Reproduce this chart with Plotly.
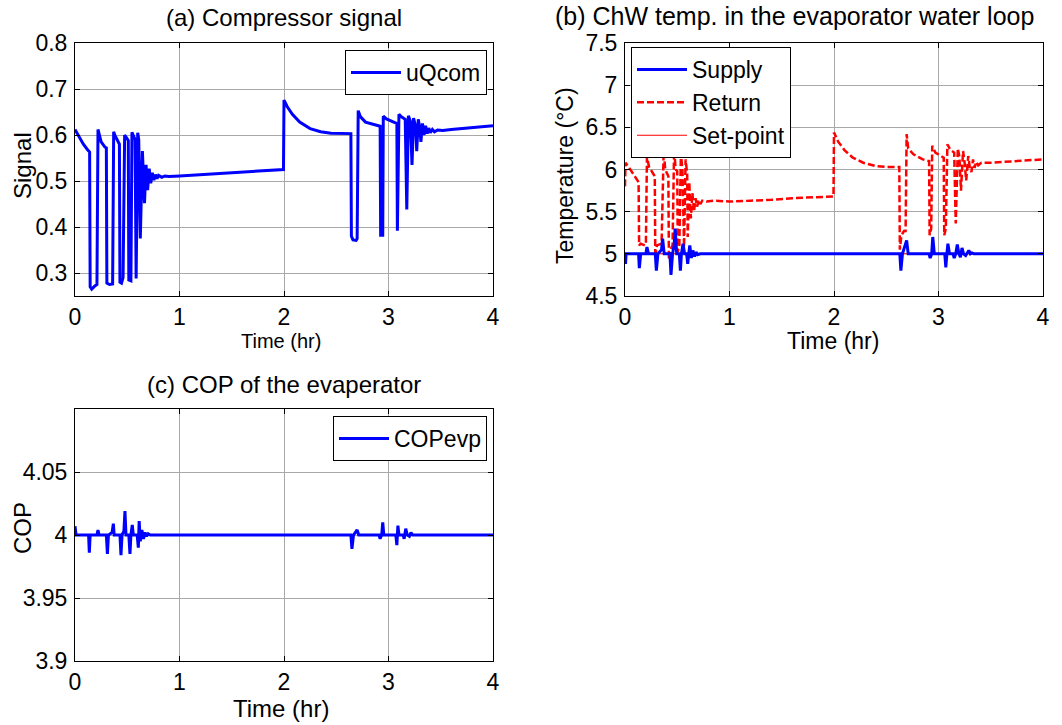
import plotly.graph_objects as go

W, H = 1062, 725
FONT = "Liberation Sans, Arial, sans-serif"

# ---------------- data ----------------
# (a) compressor signal
t_uq = [0.00, 0.04, 0.08, 0.12, 0.14, 0.145, 0.16, 0.19, 0.21, 0.22, 0.235, 0.25, 0.285, 0.30,
        0.305, 0.33, 0.36, 0.37, 0.38, 0.40, 0.425, 0.43, 0.445, 0.46, 0.475, 0.49, 0.51, 0.515,
        0.535, 0.545, 0.555, 0.575, 0.585, 0.60, 0.61, 0.625, 0.645, 0.665, 0.68, 0.695, 0.71,
        0.725, 0.74, 0.755, 0.77, 0.785, 0.80, 0.83, 0.86, 0.90, 1.00, 1.20, 1.40, 1.60, 1.80,
        1.995, 2.00, 2.03, 2.08, 2.15, 2.25, 2.35, 2.45, 2.64, 2.645, 2.66, 2.69, 2.70, 2.71,
        2.73, 2.78, 2.86, 2.92, 2.925, 2.945, 2.95, 2.98, 3.05, 3.08, 3.085, 3.10, 3.12, 3.16,
        3.175, 3.19, 3.21, 3.225, 3.24, 3.26, 3.27, 3.285, 3.30, 3.31, 3.325, 3.34, 3.355, 3.37,
        3.385, 3.40, 3.42, 3.44, 3.47, 3.52, 3.60, 3.70, 3.80, 3.90, 4.00]
u_qcom = [0.612, 0.595, 0.580, 0.568, 0.563, 0.270, 0.265, 0.272, 0.275, 0.612, 0.600, 0.585, 0.574, 0.572,
          0.278, 0.275, 0.276, 0.607, 0.600, 0.590, 0.580, 0.280, 0.278, 0.290, 0.600, 0.595, 0.588, 0.285,
          0.283, 0.606, 0.600, 0.590, 0.288, 0.605, 0.590, 0.375, 0.565, 0.452, 0.535, 0.480, 0.527,
          0.495, 0.518, 0.502, 0.514, 0.505, 0.512, 0.508, 0.511, 0.510, 0.511, 0.514, 0.517, 0.520, 0.523,
          0.525, 0.676, 0.662, 0.645, 0.628, 0.614, 0.607, 0.604, 0.603, 0.380, 0.372, 0.371, 0.375, 0.653,
          0.640, 0.628, 0.622, 0.619, 0.382, 0.382, 0.641, 0.635, 0.628, 0.625, 0.392, 0.645, 0.640, 0.634,
          0.438, 0.642, 0.630, 0.535, 0.637, 0.618, 0.565, 0.634, 0.615, 0.585, 0.625, 0.600, 0.620, 0.603,
          0.615, 0.605, 0.612, 0.607, 0.611, 0.610, 0.612, 0.614, 0.617, 0.618, 0.620]

# (b) chilled water temperatures
t_ret = [0.00, 0.005, 0.04, 0.08, 0.13, 0.135, 0.15, 0.19, 0.20, 0.21, 0.23, 0.27, 0.285, 0.29,
         0.305, 0.35, 0.37, 0.385, 0.405, 0.415, 0.42, 0.435, 0.455, 0.47, 0.485, 0.50, 0.505,
         0.52, 0.535, 0.55, 0.565, 0.58, 0.595, 0.60, 0.615, 0.63, 0.645, 0.66, 0.675, 0.69,
         0.705, 0.72, 0.74, 0.78, 0.85, 1.00, 1.20, 1.40, 1.60, 1.80, 1.995, 2.00, 2.04, 2.10,
         2.18, 2.28, 2.40, 2.50, 2.625, 2.63, 2.645, 2.67, 2.685, 2.695, 2.71, 2.76, 2.85, 2.91,
         2.915, 2.93, 2.94, 2.97, 3.03, 3.05, 3.055, 3.07, 3.085, 3.11, 3.15, 3.165, 3.185, 3.20,
         3.215, 3.235, 3.25, 3.265, 3.285, 3.30, 3.315, 3.33, 3.345, 3.36, 3.38, 3.41, 3.50, 3.66,
         3.80, 4.00]
T_return = [5.80, 6.08, 6.02, 5.95, 5.85, 5.10, 5.12, 5.10, 5.12, 6.15, 6.03, 5.95, 5.92, 4.95,
            5.10, 5.12, 6.22, 6.00, 5.95, 5.92, 4.93, 5.05, 5.10, 6.24, 6.00, 5.98, 5.02,
            5.10, 6.20, 5.98, 5.08, 6.12, 5.95, 5.20, 5.85, 5.42, 5.72, 5.50, 5.66, 5.56,
            5.64, 5.59, 5.63, 5.62, 5.63, 5.62, 5.63, 5.64, 5.66, 5.67, 5.68, 6.44, 6.33, 6.23,
            6.14, 6.08, 6.04, 6.03, 6.03, 5.05, 5.22, 5.27, 5.27, 6.42, 6.25, 6.18, 6.12, 6.10,
            5.22, 5.30, 6.28, 6.20, 6.16, 6.14, 5.22, 5.30, 6.30, 6.24, 6.20, 5.36, 6.25, 6.15,
            5.75, 6.22, 6.08, 5.87, 6.16, 6.02, 5.97, 6.12, 6.02, 6.09, 6.05, 6.08, 6.08, 6.09,
            6.10, 6.12]

t_sup = [0.00, 0.005, 0.01, 0.13, 0.137, 0.15, 0.20, 0.21, 0.225, 0.29, 0.30, 0.315, 0.35, 0.36,
         0.375, 0.43, 0.44, 0.455, 0.47, 0.48, 0.495, 0.52, 0.53, 0.54, 0.555, 0.57, 0.59, 0.60,
         0.61, 0.62, 0.635, 0.65, 0.665, 0.68, 0.695, 0.72, 2.63, 2.64, 2.655, 2.68, 2.695, 2.71,
         2.91, 2.92, 2.935, 2.945, 2.96, 3.06, 3.07, 3.08, 3.09, 3.105, 3.14, 3.15, 3.165, 3.18,
         3.195, 3.21, 3.225, 3.24, 3.26, 3.29, 3.305, 3.32, 3.34, 4.00]
T_supply = [5.00, 4.88, 5.00, 5.00, 4.83, 5.00, 5.00, 5.08, 5.00, 5.00, 4.80, 5.00, 5.05, 5.18,
            5.00, 5.00, 4.75, 5.00, 5.10, 5.30, 5.00, 5.00, 4.80, 5.00, 5.12, 5.00, 5.00, 4.88,
            5.00, 5.10, 4.95, 5.04, 4.97, 5.02, 4.99, 5.00, 5.00, 4.80, 5.00, 5.10, 5.16, 5.00,
            5.00, 4.95, 5.00, 5.20, 5.00, 5.00, 4.84, 5.00, 5.12, 5.00, 5.00, 4.95, 5.00, 5.11,
            5.00, 4.96, 5.07, 5.00, 4.98, 5.04, 5.00, 5.01, 5.00, 5.00]

t_sp = [0.0, 4.0]
T_setpoint = [5.0, 5.0]

# (c) COP of the evaporator
t_cop = [0.00, 0.01, 0.13, 0.137, 0.145, 0.21, 0.22, 0.23, 0.30, 0.31, 0.32, 0.355, 0.367, 0.375,
         0.43, 0.44, 0.45, 0.468, 0.478, 0.488, 0.515, 0.526, 0.535, 0.548, 0.558, 0.57, 0.595,
         0.606, 0.614, 0.625, 0.64, 0.655, 0.67, 0.685, 0.70, 0.72, 2.64, 2.65, 2.665, 2.70,
         2.715, 2.91, 2.92, 2.935, 2.945, 2.955, 3.07, 3.08, 3.09, 3.10, 3.14, 3.15, 3.165, 3.18,
         3.20, 3.215, 3.23, 4.00]
cop_evp = [4.007, 4.000, 4.000, 3.986, 4.000, 4.000, 4.004, 4.000, 4.000, 3.985, 4.000, 4.002, 4.009, 4.000,
           4.000, 3.984, 4.000, 4.003, 4.019, 4.000, 4.000, 3.985, 4.000, 4.008, 4.000, 4.000, 4.000,
           3.990, 4.011, 3.995, 4.004, 3.997, 4.002, 3.999, 4.001, 4.000, 4.000, 3.989, 4.000, 4.004,
           4.000, 4.000, 3.997, 4.000, 4.010, 4.000, 4.000, 3.992, 4.0075, 4.000, 4.000, 3.997, 4.005, 4.000,
           3.999, 4.002, 4.000, 4.000]

x_ticks = [0, 1, 2, 3, 4]
ya_ticks = [0.3, 0.4, 0.5, 0.6, 0.7, 0.8]
yb_ticks = [4.5, 5, 5.5, 6, 6.5, 7, 7.5]
yc_ticks = [3.9, 3.95, 4.0, 4.05, 4.1]
yc_labels = ["3.9", "3.95", "4", "4.05", ""]

# ---------------- figure ----------------
BLUE = "#0000ff"
RED = "#ff0000"

fig = go.Figure()
fig.add_trace(go.Scatter(x=t_uq, y=u_qcom, mode="lines", name="uQcom",
                         line=dict(color=BLUE, width=3), xaxis="x", yaxis="y", legend="legend"))
fig.add_trace(go.Scatter(x=t_sp, y=T_setpoint, mode="lines", name="Set-point",
                         line=dict(color=RED, width=1), xaxis="x2", yaxis="y2", legend="legend2",
                         legendrank=3))
fig.add_trace(go.Scatter(x=t_ret, y=T_return, mode="lines", name="Return",
                         line=dict(color=RED, width=2.5, dash="7px,3px"), xaxis="x2", yaxis="y2",
                         legend="legend2", legendrank=2))
fig.add_trace(go.Scatter(x=t_sup, y=T_supply, mode="lines", name="Supply",
                         line=dict(color=BLUE, width=3), xaxis="x2", yaxis="y2", legend="legend2",
                         legendrank=1))
fig.add_trace(go.Scatter(x=t_cop, y=cop_evp, mode="lines", name="COPevp",
                         line=dict(color=BLUE, width=3), xaxis="x3", yaxis="y3", legend="legend3"))


def px_x(p):
    return p / W


def px_y(p):
    return 1 - p / H


axis_common = dict(showline=True, linecolor="black", linewidth=1, mirror="ticks",
                   ticks="inside", ticklen=5, tickcolor="black", showgrid=True,
                   gridcolor="#a8a8a8", gridwidth=1, zeroline=False, automargin=False,
                   tickfont=dict(family=FONT, size=23, color="black"))

legend_common = dict(bgcolor="white", bordercolor="black", borderwidth=1,
                     font=dict(family=FONT, size=23, color="black"), itemwidth=50,
                     tracegroupgap=0)

fig.update_layout(
    template="none",
    width=W, height=H, margin=dict(l=0, r=0, t=0, b=0, autoexpand=False),
    paper_bgcolor="white", plot_bgcolor="white",
    font=dict(family=FONT, color="black"),
    xaxis=dict(domain=[px_x(75), px_x(493)], range=[0, 4], tickvals=x_ticks, anchor="y",
               ticklabelstandoff=0, **axis_common),
    yaxis=dict(domain=[px_y(296), px_y(43)], range=[0.25, 0.8], tickvals=ya_ticks, anchor="x",
               ticklabelstandoff=2, **axis_common),
    xaxis2=dict(domain=[px_x(625), px_x(1043)], range=[0, 4], tickvals=x_ticks, anchor="y2",
                ticklabelstandoff=0, **axis_common),
    yaxis2=dict(domain=[px_y(296), px_y(43)], range=[4.5, 7.5], tickvals=yb_ticks, anchor="x2",
                ticklabelstandoff=2, **axis_common),
    xaxis3=dict(domain=[px_x(75), px_x(493)], range=[0, 4], tickvals=x_ticks, anchor="y3",
                ticklabelstandoff=0, **axis_common),
    yaxis3=dict(domain=[px_y(661), px_y(409)], range=[3.9, 4.1], tickvals=yc_ticks,
                ticktext=yc_labels, anchor="x3", ticklabelstandoff=2, **axis_common),
    legend=dict(x=px_x(487), y=px_y(50), xanchor="right", yanchor="top", **legend_common),
    legend2=dict(x=px_x(631), y=px_y(47), xanchor="left", yanchor="top", **legend_common),
    legend3=dict(x=px_x(487), y=px_y(416), xanchor="right", yanchor="top", **legend_common),
    showlegend=True,
)

annots = [
    dict(text="(a) Compressor signal", x=px_x(284), y=px_y(18), size=24),
    dict(text="(b) ChW temp. in the evaporator water loop", x=px_x(553), y=px_y(16), size=25,
         anchor="left"),
    dict(text="(c) COP of the evaperator", x=px_x(284), y=px_y(385), size=24),
    dict(text="Signal", x=px_x(22), y=px_y(166), size=24, angle=-90),
    dict(text="Temperature (°C)", x=px_x(565), y=px_y(176), size=23, angle=-90),
    dict(text="COP", x=px_x(22), y=px_y(528), size=24, angle=-90),
    dict(text="Time (hr)", x=px_x(281), y=px_y(341), size=20),
    dict(text="Time (hr)", x=px_x(833), y=px_y(341), size=23),
    dict(text="Time (hr)", x=px_x(281), y=px_y(708), size=24),
]
for a in annots:
    fig.add_annotation(text=a["text"], x=a["x"], y=a["y"], xref="paper", yref="paper",
                       xanchor=a.get("anchor", "center"), yanchor="middle", showarrow=False,
                       textangle=a.get("angle", 0),
                       font=dict(family=FONT, size=a["size"], color="black"))

fig.write_html("out.html")
